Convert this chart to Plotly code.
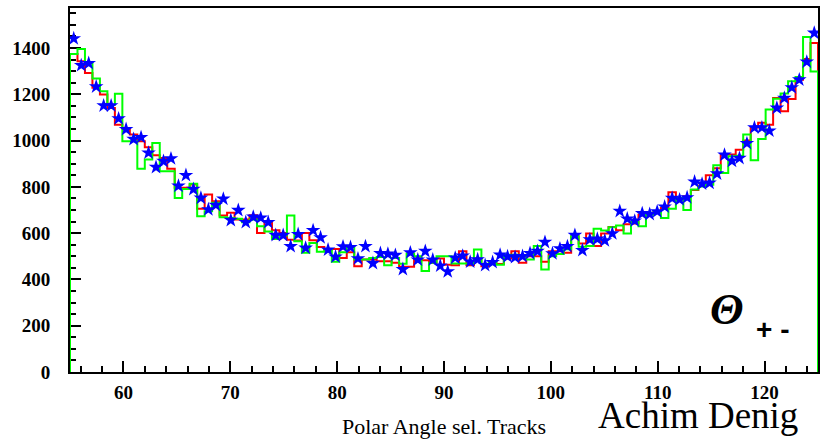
import numpy as np
import plotly.graph_objects as go

# Histogram binning (100 bins over 55..125 deg)
bin_lo, bin_hi, n_bins = 55.0, 125.0, 100

stars = [1441, 1325, 1334, 1233, 1151, 1151, 1095, 1049, 1006, 1014,
         947, 885, 911, 922, 804, 850, 790, 752, 702, 721,
         748, 656, 699, 647, 670, 666, 647, 591, 591, 543,
         595, 536, 612, 581, 528, 498, 542, 539, 490, 543,
         470, 513, 510, 505, 444, 516, 485, 522, 485, 459,
         434, 493, 502, 476, 486, 461, 474, 506, 499, 496,
         500, 513, 522, 561, 512, 533, 543, 591, 526, 572,
         575, 568, 598, 695, 662, 653, 685, 682, 693, 714,
         751, 745, 754, 822, 813, 817, 857, 938, 912, 924,
         988, 1056, 1056, 1042, 1141, 1184, 1229, 1263, 1340, 1465]

red = [1374, 1343, 1292, 1228, 1199, 1141, 1069, 1052, 1026, 997,
       971, 937, 925, 878, 796, 796, 810, 705, 767, 738,
       676, 688, 659, 659, 677, 601, 651, 613, 601, 572,
       568, 601, 569, 540, 529, 532, 493, 517, 457, 486,
       486, 479, 479, 472, 455, 455, 490, 483, 472, 490,
       464, 461, 522, 461, 490, 457, 472, 467, 490, 522,
       472, 500, 500, 476, 522, 522, 515, 587, 555, 598,
       544, 598, 627, 613, 638, 642, 680, 685, 695, 709,
       777, 745, 760, 786, 805, 850, 880, 940, 940, 960,
       1000, 1057, 1077, 1069, 1184, 1127, 1180, 1263, 1353, 1422]

green = [1374, 1396, 1336, 1268, 1213, 1155, 1202, 997, 997, 878,
         918, 990, 868, 868, 752, 791, 813, 673, 695, 731,
         669, 666, 662, 647, 659, 630, 607, 575, 590, 676,
         565, 515, 558, 520, 529, 476, 517, 540, 486, 486,
         493, 497, 461, 493, 468, 512, 500, 436, 472, 500,
         500, 469, 469, 469, 529, 467, 479, 464, 507, 507,
         500, 486, 544, 443, 500, 510, 530, 587, 541, 544,
         619, 612, 626, 633, 598, 648, 630, 680, 690, 666,
         705, 752, 700, 789, 802, 809, 893, 860, 932, 935,
         1026, 915, 1007, 1134, 1181, 1203, 1256, 1275, 1448, 1299]

x_ticks = [60, 70, 80, 90, 100, 110, 120]
y_ticks = [0, 200, 400, 600, 800, 1000, 1200, 1400]

edges = np.linspace(bin_lo, bin_hi, n_bins + 1)
centers = 0.5 * (edges[:-1] + edges[1:])


def step_xy(vals):
    xs = [edges[0]] + list(edges[:-1]) + [edges[-1], edges[-1]]
    ys = [0] + list(vals) + [vals[-1], 0]
    return xs, ys


fig = go.Figure()
rx, ry = step_xy(red)
fig.add_trace(go.Scatter(x=rx, y=ry, mode="lines", line=dict(color="#ff0000", width=2, shape="hv"),
                         showlegend=False, hoverinfo="skip", cliponaxis=False))
gx, gy = step_xy(green)
fig.add_trace(go.Scatter(x=gx, y=gy, mode="lines", line=dict(color="#00ff00", width=2, shape="hv"),
                         showlegend=False, hoverinfo="skip", cliponaxis=False))
fig.add_trace(go.Scatter(x=centers, y=stars, mode="markers",
                         marker=dict(symbol="star", size=11, color="#0000ff", line=dict(width=0)),
                         showlegend=False))

tickfont = dict(family="Liberation Serif", size=19, color="black", weight="bold")

axis_common = dict(
    ticks="inside", ticklen=11, tickwidth=1.5, tickcolor="black",
    showline=True, linecolor="black", linewidth=2, mirror=True,
    showgrid=False, zeroline=False, tickfont=tickfont, layer="below traces",
)

fig.update_layout(
    width=826, height=445,
    margin=dict(l=70, r=6, t=8, b=73),
    paper_bgcolor="white", plot_bgcolor="white",
    font=dict(family="Liberation Serif"),
    xaxis=dict(range=[bin_lo, bin_hi], tickvals=x_ticks, ticktext=[str(v) for v in x_ticks],
               minor=dict(dtick=2, tick0=0, ticks="inside", ticklen=6, tickwidth=1.5, tickcolor="black"),
               ticklabelstandoff=2, **axis_common),
    yaxis=dict(range=[0, 1573], tickvals=y_ticks, ticktext=[str(v) for v in y_ticks],
               minor=dict(dtick=50, tick0=0, ticks="inside", ticklen=6, tickwidth=1.5, tickcolor="black"),
               ticklabelstandoff=14, **axis_common),
)

# Annotations positioned in pixels converted to paper coords
W, H = 826, 445
l, r, t, b = 70, 6, 8, 73
pw, ph = W - l - r, H - t - b


def px2paper(px, py):
    return (px - l) / pw, 1 - (py - t) / ph


ax, ay = px2paper(445, 427)
fig.add_annotation(text="Polar Angle sel. Tracks", xref="paper", yref="paper", x=ax, y=ay,
                   xanchor="center", yanchor="middle", showarrow=False,
                   font=dict(family="Liberation Serif", size=22, color="black"))
ax, ay = px2paper(700, 415)
fig.add_annotation(text="Achim Denig", xref="paper", yref="paper", x=ax, y=ay,
                   xanchor="center", yanchor="middle", showarrow=False,
                   font=dict(family="Liberation Serif", size=37, color="black"))
ax, ay = px2paper(729, 309)
fig.add_annotation(text="<b><i>Θ</i></b>", xref="paper", yref="paper", x=ax, y=ay,
                   xanchor="center", yanchor="middle", showarrow=False,
                   font=dict(family="Liberation Serif", size=44, color="black"))
ax, ay = px2paper(774, 329)
fig.add_annotation(text="<b>+ -</b>", xref="paper", yref="paper", x=ax, y=ay,
                   xanchor="center", yanchor="middle", showarrow=False,
                   font=dict(family="Liberation Sans", size=28, color="black"))

fig.write_html("out.html")
